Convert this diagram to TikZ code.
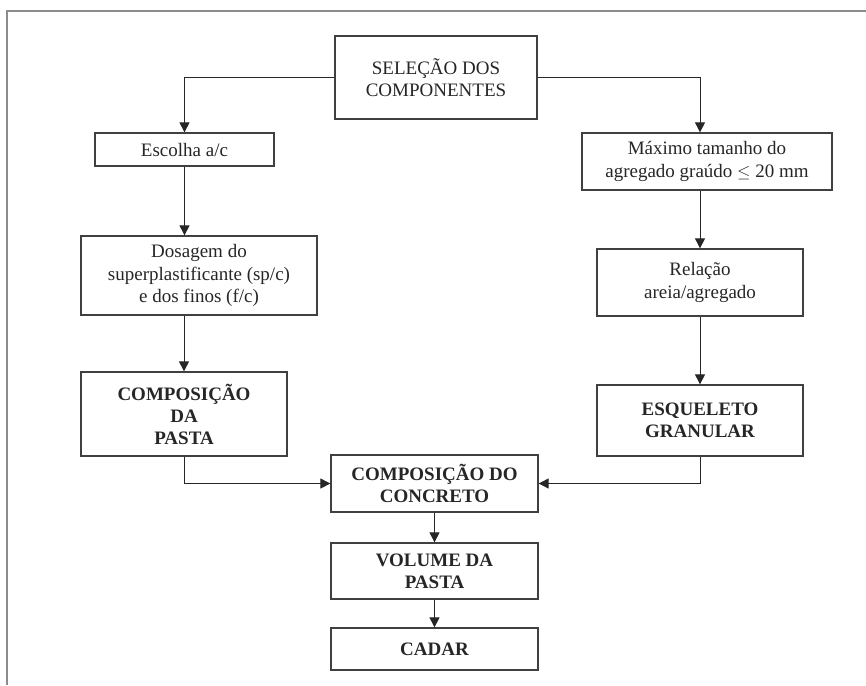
\documentclass[tikz,border=0pt]{standalone}
\usepackage{fontspec}
\setmainfont{Liberation Serif}
\usetikzlibrary{arrows.meta}

\begin{document}
\begin{tikzpicture}[x=1pt, y=-1pt,
    font=\fontsize{19}{22.5}\selectfont,
    caixa/.style={draw=black!75, line width=1.3pt, text=black!85, align=center, inner sep=0pt},
    seta/.style={black!85, line width=1pt, -{Triangle[length=10pt, width=10pt]}}]
  \useasboundingbox (0,0) rectangle (866,685);
  \draw[black!45, line width=2.6pt] (7,685) -- (7,11) -- (866,11);

  \foreach \nm/\xc/\yc/\bw/\bh/\txt in {
    sel/436/77.5/202/83/{SELEÇÃO DOS\\COMPONENTES},
    esc/184.5/149.5/179/33/{Escolha a/c},
    dos/199/275.5/236/79/{Dosagem do\\superplastificante (sp/c)\\e dos finos (f/c)},
    max/707/161.5/250/57/{Máximo tamanho do\\agregado graúdo $\leq$ 20 mm},
    rel/700/282.5/206/67/{Relação\\areia/agregado}} {
    \node[caixa, minimum width=\bw pt, minimum height=\bh pt] (\nm) at (\xc,\yc) {\txt};
  }
  \foreach \nm/\xc/\yc/\bw/\bh/\txt in {
    pasta/184/414/206/84/{COMPOSIÇÃO\\DA\\PASTA},
    esq/700/420.5/206/71/{ESQUELETO\\GRANULAR},
    conc/434.5/483.5/207/57/{COMPOSIÇÃO DO\\CONCRETO},
    vol/434.5/571/207/56/{VOLUME DA\\PASTA},
    cad/434.5/649/207/42/{CADAR}} {
    \node[caixa, font=\fontsize{19}{22}\selectfont\bfseries,
          minimum width=\bw pt, minimum height=\bh pt] (\nm) at (\xc,\yc) {\txt};
  }

  % ramo esquerdo
  \draw[seta] (sel.west) -| (esc.north);
  \draw[seta] (esc.south) -- (esc.south |- dos.north);
  \draw[seta] (dos.south -| pasta.north) -- (pasta.north);
  \draw[seta] (pasta.south) |- (conc.west);
  % ramo direito
  \draw[seta] (sel.east) -| (max.north -| rel.north);
  \draw[seta] (max.south -| rel.north) -- (rel.north);
  \draw[seta] (rel.south) -- (esq.north);
  \draw[seta] (esq.south) |- (conc.east);
  % centro
  \draw[seta] (conc.south) -- (vol.north);
  \draw[seta] (vol.south) -- (cad.north);
\end{tikzpicture}
\end{document}
